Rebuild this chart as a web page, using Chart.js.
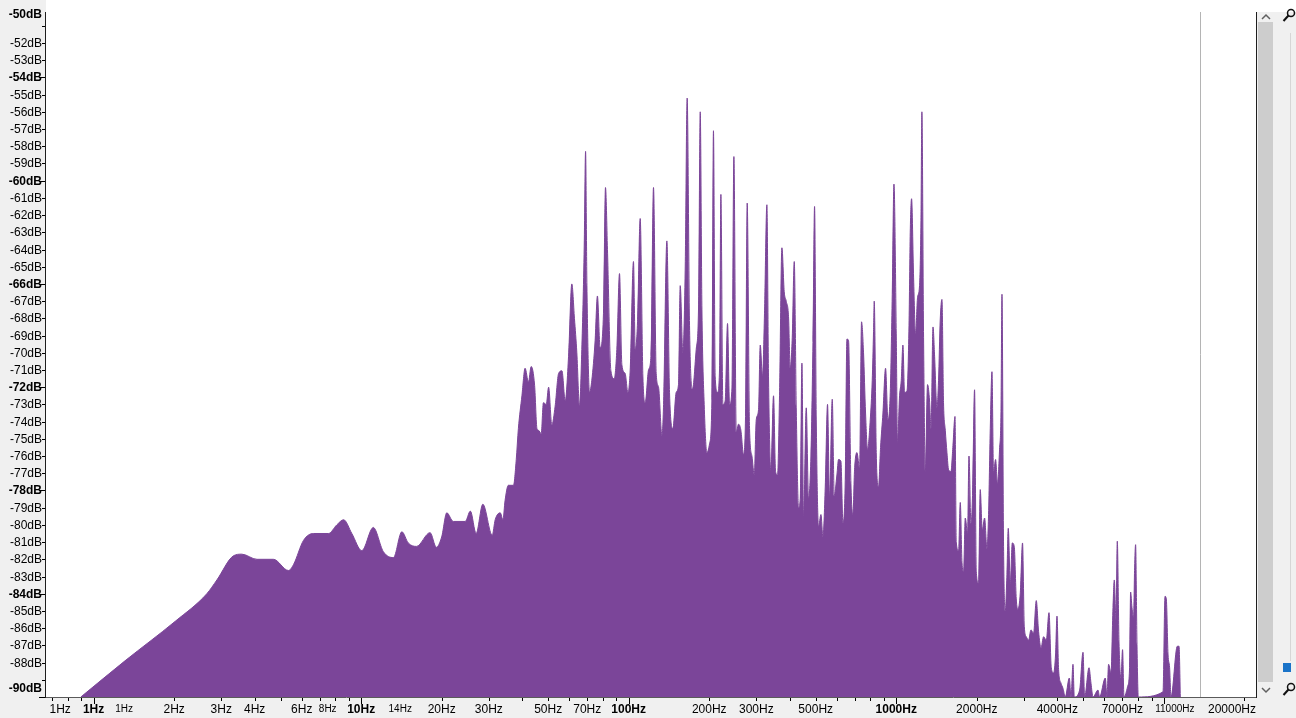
<!DOCTYPE html>
<html>
<head>
<meta charset="utf-8">
<script src="https://cdn.jsdelivr.net/npm/chart.js@4.4.1/dist/chart.umd.min.js"></script>
<style>
  html, body { margin: 0; padding: 0; }
  body { width: 1296px; height: 718px; overflow: hidden; background: #f0f0f0; position: relative; font-family: "Liberation Sans", Arial, sans-serif; }
  #wrap { position: absolute; left: 0; top: 0; width: 1257px; height: 718px; }
  .abs { position: absolute; }
</style>
</head>
<body>
<div class="abs" style="left:46px;top:0;width:1250px;height:12px;background:#fff"></div>
<div id="wrap"><canvas id="spectrum" width="1257" height="718"></canvas></div>

<!-- scrollbar + side panel -->
<div class="abs" style="left:1257px;top:12px;width:17px;height:686px;background:#f0f0f0"></div>
<div class="abs" style="left:1258px;top:22px;width:15px;height:660px;background:#cdcdcd"></div>
<svg class="abs" style="left:1260px;top:12px" width="12" height="10"><polyline points="2,7 6,3 10,7" fill="none" stroke="#606060" stroke-width="1.5"/></svg>
<svg class="abs" style="left:1260px;top:685px" width="12" height="10"><polyline points="2,3 6,7 10,3" fill="none" stroke="#606060" stroke-width="1.5"/></svg>
<div class="abs" style="left:1290px;top:33px;width:1px;height:628px;background:#d6d6d6"></div>
<div class="abs" style="left:1283px;top:663px;width:8px;height:9px;background:#1a73c8"></div>
<svg class="abs" style="left:1282px;top:8px" width="14" height="16"><circle cx="9" cy="5" r="3.5" fill="none" stroke="#111" stroke-width="1.5"/><line x1="6.5" y1="7.5" x2="1.5" y2="13" stroke="#111" stroke-width="2"/></svg>
<svg class="abs" style="left:1282px;top:682px" width="14" height="16"><circle cx="9" cy="5" r="3.5" fill="none" stroke="#111" stroke-width="1.5"/><line x1="6.5" y1="7.5" x2="1.5" y2="13" stroke="#111" stroke-width="2"/></svg>

<script>
// spectrum (Hz, dB)
const freqs = [
  0.896, 1.31, 2.02, 2.65, 2.89, 3.33, 3.58, 4.08, 4.70, 5.35, 5.59, 6.09, 6.64, 7.55, 8.11, 8.60, 9.23,
  10.06, 11.1, 12.1, 13.2, 14.2, 15.0, 16.1, 18.1, 19.1, 20.0, 20.9, 22.1, 24.5, 25.6, 26.9, 28.5,
  30.9, 31.7, 33.1, 33.9, 34.5, 35.5, 37.1, 38.0, 38.7, 39.9, 41.0, 42.2, 43.2, 44.5, 45.4, 46.0,
  47.1, 48.0, 49.2, 50.2, 51.6, 53.1, 54.7, 56.3, 57.9, 59.6, 61.3, 62.7, 64.0, 65.5, 66.8, 68.2,
  69.0, 69.8, 71.4, 72.8, 74.9, 76.4, 78.2, 80.5, 81.9, 83.3, 85.8, 88.3, 90.3, 92.4, 94.3, 97.0, 99.3,
  101.3, 104.2, 105.8, 107.9, 110.4, 113.0, 115.3, 118.6, 121.1, 123.8, 126.7, 129.3, 133.1, 135.0,
  138.9, 142.1, 146.3, 150.5, 153.5, 155.8, 159.4, 162.6, 165.4, 168.8, 173.2, 178.8, 182.4, 185.1,
  187.8, 191.5, 196.0, 200.5, 204.6, 207.4, 210.5, 214.8, 218.5, 221.1, 224.9, 229.4, 234.1, 238.2,
  243.1, 247.3, 252.3, 257.3, 262.6, 268.6, 273.3, 277.3, 282.9, 288.8, 294.6, 299.7, 305.7, 310.2,
  316.3, 321.8, 328.5, 333.1, 340.0, 347.8, 353.9, 360.0, 366.2, 373.8, 381.3, 387.9, 395.7, 401.6,
  408.6, 415.7, 422.9, 431.4, 437.7, 444.1, 450.4, 460.9, 470.1, 479.8, 488.3, 495.1, 502.4, 512.4,
  523.1, 532.1, 542.8, 553.6, 563.3, 576.5, 586.5, 600.1, 608.5, 621.1, 632.0, 644.7, 654.1, 663.3,
  677.0, 688.8, 698.4, 712.9, 729.2, 741.8, 754.6, 767.8, 781.1, 799.5, 813.3, 822.5, 827.4, 841.8,
  858.6, 873.6, 891.8, 912.1, 931.1, 949.8, 966.2, 980.5,
  1000, 1011, 1029, 1044, 1059, 1074, 1097, 1116, 1128, 1141, 1161, 1181, 1201, 1222, 1237, 1247,
  1265, 1284, 1309, 1332, 1349, 1372, 1391, 1419, 1439, 1460, 1482, 1502, 1525, 1547, 1569, 1601,
  1629, 1658, 1676, 1710, 1735, 1761, 1785, 1811, 1847, 1870, 1902, 1928, 1962, 1991, 2031, 2060,
  2096, 2139, 2183, 2213, 2246, 2279, 2310, 2351, 2391, 2433, 2463, 2484, 2518, 2555, 2592, 2622,
  2668, 2714, 2761, 2809, 2850, 2908, 2965, 3010, 3062, 3123, 3188, 3260, 3337, 3404, 3475, 3554,
  3637, 3723, 3797, 3873, 3940, 3988, 4043, 4128, 4200, 4284, 4434, 4499, 4577, 4628, 4846, 4989,
  5059, 5254, 5344, 5437, 5676, 5755, 6043, 6132, 6217, 6347, 6458, 6530, 6627, 6701, 6800, 6918,
  7012, 7099, 7321, 7449, 7514, 7604, 7710, 7778, 7845, 7939, 8029, 9932, 10104, 10217, 10368,
  10512, 10640, 11234, 11400, 11530
];
const levels = [
  -90, -87.9, -85.6, -84.0, -83.2, -81.8, -81.7, -82.0, -82.0, -82.65, -82.3, -80.9, -80.5, -80.5, -80.0, -79.7, -80.5,
  -81.5, -80.15, -81.55, -81.9, -80.4, -81.05, -81.25, -80.45, -81.3, -80.7, -79.3, -79.8, -79.8, -79.2, -80.5, -78.8,
  -80.6, -79.7, -79.3, -79.7, -78.6, -77.7, -77.7, -76.2, -74.4, -72.5, -70.9, -71.7, -70.8, -71.9, -74.4, -74.5,
  -74.7, -72.9, -73.0, -72.0, -74.2, -73.1, -71.2, -71.05, -72.8, -70.2, -66.0, -68.0, -70.0, -73.1, -69.8, -63.8,
  -58.3, -66.1, -72.3, -71.6, -69.3, -66.7, -69.7, -67.7, -60.4, -64.0, -71.05, -71.5, -69.8, -65.4, -70.7, -71.2, -72.3,
  -71.0, -64.7, -69.8, -68.2, -62.2, -71.4, -72.9, -71.0, -70.2, -60.4, -71.2, -72.0, -74.8, -73.0,
  -63.5, -72.3, -74.4, -72.3, -71.85, -66.1, -70.0, -65.2, -55.2, -68.4, -72.1, -69.8, -67.4, -56.0,
  -67.5, -73.0, -75.8, -75.3, -72.8, -57.1, -71.4, -72.3, -71.0, -60.8, -73.0, -72.8, -68.3, -73.0,
  -72.1, -58.6, -74.6, -74.15, -74.5, -75.9, -73.7, -61.3, -74.4, -76.0, -77.1, -73.9, -73.3, -69.55,
  -71.4, -67.7, -61.4, -71.4, -76.9, -72.5, -76.9, -77.1, -72.5, -63.9, -66.45, -67.0, -67.9, -70.9,
  -69.1, -64.7, -73.2, -79.0, -78.5, -70.6, -79.7, -73.2, -78.5, -76.0, -69.4, -61.5, -73.9, -80.1,
  -79.4, -80.7, -77.8, -73.0, -78.5, -72.7, -78.3, -77.1, -76.2, -76.3, -79.9, -77.4, -69.2, -69.3,
  -77.6, -79.4, -76.8, -75.8, -76.7, -68.2, -70.0, -73.5, -75.6, -73.9, -71.6, -68.75, -67.0, -75.8,
  -77.8, -75.5, -73.5, -70.9, -73.9, -72.3, -66.6, -60.2,
  -68.9, -75.2, -72.5, -71.6, -69.55, -72.3, -72.2, -68.4, -63.0, -61.05, -65.65, -68.9, -66.8, -66.1, -62.3, -56.0,
  -69.1, -76.9, -71.85, -72.8, -74.4, -68.5, -70.2, -73.2, -71.6, -68.1, -66.9, -72.9, -74.5, -75.8, -76.8, -76.9,
  -75.4, -73.7, -81.0, -81.5, -78.7, -82.2, -82.7, -79.6, -80.5, -76.0, -79.9, -78.3, -72.15, -82.7, -83.4, -77.95,
  -80.3, -79.6, -81.4, -79.4, -74.4, -71.1, -77.0, -76.2, -77.6, -75.6, -73.4, -66.6, -81.25, -85.0, -82.9, -80.2,
  -83.4, -81.05, -81.25, -84.3, -84.9, -83.95, -81.05, -85.9, -86.5, -86.7, -86.1, -86.3, -84.4, -86.2, -87.15, -86.5,
  -86.7, -85.1, -88.3, -88.6, -87.5, -85.3, -88.4, -89.2, -89.5, -90, -88.9, -90, -88.1, -90, -89.6, -87.4,
  -90, -88.3, -89.2, -90, -89.6, -90, -88.9, -90, -88.1, -88.6, -84.8, -83.2, -85.5, -80.95, -86.8, -88.9,
  -87.25, -90, -89.4, -88.3, -83.9, -84.8, -85.4, -82.5, -81.15, -86.95, -90, -89.7, -84.15, -84.3, -87.5,
  -88.3, -90, -87.05, -87.05, -90
];

// axis ticks
const dbTicks = [-50, -51, -52, -53, -54, -55, -56, -57, -58, -59, -60, -61, -62, -63, -64, -65, -66, -67, -68, -69, -70,
  -71, -72, -73, -74, -75, -76, -77, -78, -79, -80, -81, -82, -83, -84, -85, -86, -87, -88, -89, -90];
const dbUnlabelled = [-51, -89];
const dbBold = [-50, -54, -60, -66, -72, -78, -84, -90];

const hzTicks = [0.75, 1, 1.3, 2, 3, 4, 6, 7.5, 10, 14, 20, 30, 50, 70, 100, 200, 300, 500, 1000, 2000, 4000, 7000, 11000, 20000];
const hzLabels = ["1Hz", "1Hz", "1Hz", "2Hz", "3Hz", "4Hz", "6Hz", "8Hz", "10Hz", "14Hz", "20Hz", "30Hz", "50Hz", "70Hz",
  "100Hz", "200Hz", "300Hz", "500Hz", "1000Hz", "2000Hz", "4000Hz", "7000Hz", "11000Hz", "20000Hz"];
const hzWeights = ["n", "b", "s", "n", "n", "n", "n", "s", "b", "s", "n", "n", "n", "n", "b", "n", "n", "n", "b", "n", "n", "n", "s", "n"];
const hzMinorMarks = [0.7, 0.8, 0.9, 2, 3, 4, 5, 6, 7, 8, 9, 20, 30, 40, 50, 60, 70, 80, 90, 200, 300, 400, 500, 600, 700, 800, 900,
  2000, 3000, 4000, 5000, 6000, 7000, 8000, 9000, 20000];
const hzMajorMarks = [1, 10, 100, 1000, 10000];
const cursorHz = 13700;
const floorDb = -90;

const PURPLE = "#7b4599";
const FONT = '"Liberation Sans", Arial, sans-serif';

function fontFor(w) {
  if (w === "b") return `bold 12px ${FONT}`;
  if (w === "s") return `10px ${FONT}`;
  return `12px ${FONT}`;
}

const framePlugin = {
  id: "frame",
  beforeDraw(chart) {
    const { ctx, chartArea: a } = chart;
    ctx.save();
    ctx.fillStyle = "#ffffff";
    ctx.fillRect(a.left, 0, a.right - a.left, a.bottom);
    ctx.restore();
  },
  beforeDatasetsDraw(chart) {
    const { ctx, chartArea: a, scales: { x } } = chart;
    const px = Math.round(x.getPixelForValue(cursorHz)) + 0.5;
    ctx.save();
    ctx.strokeStyle = "#b4b4b4";
    ctx.lineWidth = 1;
    ctx.beginPath();
    ctx.moveTo(px, a.top);
    ctx.lineTo(px, a.bottom);
    ctx.stroke();
    ctx.restore();
  },
  afterDraw(chart) {
    const { ctx, chartArea: a, scales: { x, y } } = chart;
    ctx.save();
    ctx.lineWidth = 1;

    // frame lines
    ctx.strokeStyle = "#5a5a5a";
    ctx.beginPath();
    ctx.moveTo(a.left - 3, a.bottom + 0.5);
    ctx.lineTo(a.right, a.bottom + 0.5);
    ctx.stroke();
    ctx.strokeStyle = "#1e1e1e";
    ctx.beginPath();
    ctx.moveTo(a.left - 0.5, a.top);
    ctx.lineTo(a.left - 0.5, a.bottom + 1);
    ctx.moveTo(a.right - 0.5, a.top);
    ctx.lineTo(a.right - 0.5, a.bottom + 1);
    ctx.stroke();

    // y axis: marks only inside the plotted range, labels kept within the frame
    ctx.fillStyle = "#000";
    ctx.strokeStyle = "#000";
    ctx.textAlign = "right";
    ctx.textBaseline = "middle";
    dbTicks.forEach((v) => {
      const raw = y.getPixelForValue(v);
      const py = Math.round(raw) + 0.5;
      const bold = dbBold.includes(v);
      if (raw >= a.top) {
        const len = bold ? 6 : 3;
        ctx.beginPath();
        ctx.moveTo(a.left - 1 - len, py);
        ctx.lineTo(a.left - 1, py);
        ctx.stroke();
      }
      if (dbUnlabelled.includes(v)) return;
      ctx.font = bold ? `bold 12px ${FONT}` : `12px ${FONT}`;
      const ly = Math.max(a.top + 2.5, Math.min(py, a.bottom - 8));
      ctx.fillText(`${v}dB`, a.left - 4, ly);
    });

    // x axis marks
    const mark = (v, len) => {
      const px = Math.round(x.getPixelForValue(v)) + 0.5;
      ctx.beginPath();
      ctx.moveTo(px, a.bottom + 1);
      ctx.lineTo(px, a.bottom + 1 + len);
      ctx.stroke();
    };
    hzMinorMarks.forEach((v) => mark(v, 3));
    hzMajorMarks.forEach((v) => mark(v, 6));

    // x labels
    ctx.textAlign = "center";
    ctx.textBaseline = "middle";
    hzTicks.forEach((v, i) => {
      ctx.font = fontFor(hzWeights[i]);
      const w = ctx.measureText(hzLabels[i]).width;
      let px = x.getPixelForValue(v);
      if (px + w / 2 > a.right - 1) px = a.right - 1 - w / 2;
      ctx.fillText(hzLabels[i], px, a.bottom + 12.5);
    });
    ctx.restore();
  },
};

const points = freqs.map((f, i) => ({ x: f, y: levels[i] }));

new Chart(document.getElementById("spectrum"), {
  type: "line",
  data: {
    datasets: [{
      data: points,
      borderColor: PURPLE,
      backgroundColor: PURPLE,
      borderWidth: 1,
      pointRadius: 0,
      fill: "start",
      cubicInterpolationMode: "monotone",
      // no outline along the floor where there is no signal
      segment: {
        borderColor: (c) => (c.p0.parsed.y <= floorDb && c.p1.parsed.y <= floorDb ? "rgba(0,0,0,0)" : PURPLE),
      },
    }],
  },
  options: {
    responsive: false,
    animation: false,
    events: [],
    layout: { padding: { top: 12, left: 0, right: 0, bottom: 0 } },
    plugins: { legend: { display: false }, tooltip: { enabled: false } },
    scales: {
      x: {
        type: "logarithmic", min: 0.664, max: 22300,
        ticks: { display: false }, grid: { display: false }, border: { display: false },
        afterFit: (s) => { s.height = 21; },
      },
      y: {
        type: "linear", min: floorDb, max: -50.2,
        ticks: { display: false }, grid: { display: false }, border: { display: false },
        afterFit: (s) => { s.width = 46; },
      },
    },
  },
  plugins: [framePlugin],
});
</script>
</body>
</html>
